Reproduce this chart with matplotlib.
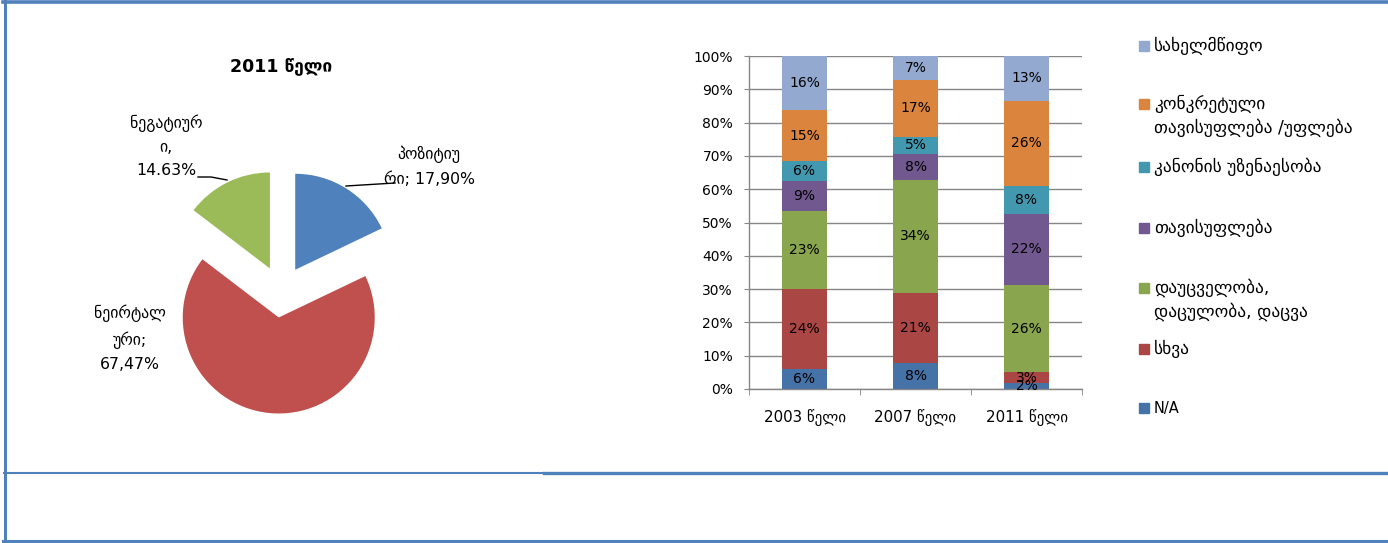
import numpy as np
import matplotlib.pyplot as plt
from matplotlib.lines import Line2D
from matplotlib.patches import Rectangle

plt.rcParams['font.family'] = ['DejaVu Sans']

W, H = 1388, 543

# --- pie data (2011) ---
pie_values = [17.90, 67.47, 14.63]
pie_colors = ['#4F81BD', '#C0504D', '#9BBB59']
pie_texts = ['პოზიტიუ\nრი; 17,90%', 'ნეირტალ\nური;\n67,47%', 'ნეგატიურ\nი,\n14.63%']

# --- stacked bar data (bottom to top) ---
years = ['2003 წელი', '2007 წელი', '2011 წელი']
series_names = ['N/A', 'სხვა', 'დაუცველობა,\nდაცულობა, დაცვა', 'თავისუფლება',
                'კანონის უზენაესობა', 'კონკრეტული\nთავისუფლება /უფლება', 'სახელმწიფო']
na = [6.0, 7.8, 1.8]
other = [24.1, 21.0, 3.2]
security = [23.3, 34.0, 26.1]
freedom = [9.0, 7.9, 21.6]
rule_of_law = [6.1, 5.1, 8.2]
rights = [15.2, 17.0, 25.7]
state = [16.3, 7.2, 13.4]
series_values = [na, other, security, freedom, rule_of_law, rights, state]
bar_colors = ['#4572A7', '#AA4643', '#89A54E', '#71588F', '#4198AF', '#DB843D', '#93A9CF']


def fx(x):
    return x / W


def fy(y):
    return 1 - y / H


fig = plt.figure(figsize=(W / 100, H / 100), dpi=100)

# frame lines around the chart area
border = '#4F81BD'
fig.add_artist(Line2D([fx(3), 1], [fy(1.8), fy(1.8)], color=border, lw=2.6))
fig.add_artist(Line2D([fx(4.5), fx(4.5)], [0, 1], color=border, lw=2.2))
fig.add_artist(Line2D([fx(3), 1], [fy(540.5), fy(540.5)], color=border, lw=2.2))
fig.add_artist(Line2D([fx(544), 1], [fy(472.5), fy(472.5)], color=border, lw=2.4))
fig.add_artist(Line2D([fx(4), fx(544)], [fy(473), fy(473)], color=border, lw=1.5))

# --- pie chart ---
cx, cy, r = 281.4, 291.7, 96.0
half = 1.6 * r
ax_pie = fig.add_axes([fx(cx - half), fy(cy + half), 2 * half / W, 2 * half / H])
ax_pie.pie(pie_values, colors=pie_colors, startangle=90, counterclock=False,
           explode=[0.27] * 3, radius=1)
ax_pie.set_xlim(-1.6, 1.6)
ax_pie.set_ylim(-1.6, 1.6)
ax_pie.axis('off')


def pd(px, py):
    return (px - cx) / r, (cy - py) / r


label_pos = [(429, 166), (130, 338), (166, 146)]
for txt, (px, py) in zip(pie_texts, label_pos):
    ax_pie.text(*pd(px, py), txt, ha='center', va='center', fontsize=11.3,
                linespacing=1.67, clip_on=False)

# leader lines
gx, gy = zip(pd(198, 177), pd(211, 177), pd(227, 180))
ax_pie.plot(gx, gy, color='black', lw=1, clip_on=False)
bx, by = zip(pd(346, 186), pd(395, 183))
ax_pie.plot(bx, by, color='black', lw=1, clip_on=False)

fig.text(fx(281), fy(66), '2011 წელი', ha='center', va='center',
         fontsize=12.5, fontweight='bold')

# --- stacked bar chart ---
ax = fig.add_axes([fx(749), fy(389), 333 / W, 333 / H])
x = np.arange(len(years))
bottom = np.zeros(len(years))
for vals, col in zip(series_values, bar_colors):
    bars = ax.bar(x, vals, 0.4, bottom=bottom, color=col, zorder=2)
    ax.bar_label(bars, labels=[f'{v:.0f}%' for v in vals], label_type='center',
                 fontsize=10, color='black')
    bottom += np.array(vals)

grey = '#868686'
ax.set_xlim(-0.5, 2.5)
ax.set_ylim(0, 100)
ax.set_yticks(range(0, 101, 10))
ax.set_yticklabels([f'{v}%' for v in range(0, 101, 10)], fontsize=10)
ax.yaxis.grid(True, color=grey, lw=1)
ax.set_axisbelow(True)
ax.set_xticks(x)
ax.set_xticklabels(years, fontsize=10.8)
ax.set_xticks([-0.5, 0.5, 1.5, 2.5], minor=True)
ax.tick_params(axis='x', which='major', length=0, pad=14.5)
ax.tick_params(axis='x', which='minor', length=4, color=grey, direction='out')
ax.tick_params(axis='y', length=3.5, color=grey, pad=8)
for s in ['top', 'right']:
    ax.spines[s].set_visible(False)
for s in ['left', 'bottom']:
    ax.spines[s].set_color(grey)
    ax.spines[s].set_linewidth(1)

# --- legend (top to bottom) ---
legend_y = [46, 104, 167, 228, 288, 349, 408]
for name, col, ly in zip(series_names[::-1], bar_colors[::-1], legend_y):
    fig.add_artist(Rectangle((fx(1139), fy(ly + 5)), 10 / W, 10 / H,
                             transform=fig.transFigure, color=col))
    size = 10.5 if name == 'N/A' else 12.5
    # baseline anchors the last line, so shift down for wrapped labels
    base = ly + 5 + 24 * name.count('\n')
    fig.text(fx(1154), fy(base), name, ha='left', va='baseline', fontsize=size,
             linespacing=1.38)

plt.savefig('out.png', dpi=100)
